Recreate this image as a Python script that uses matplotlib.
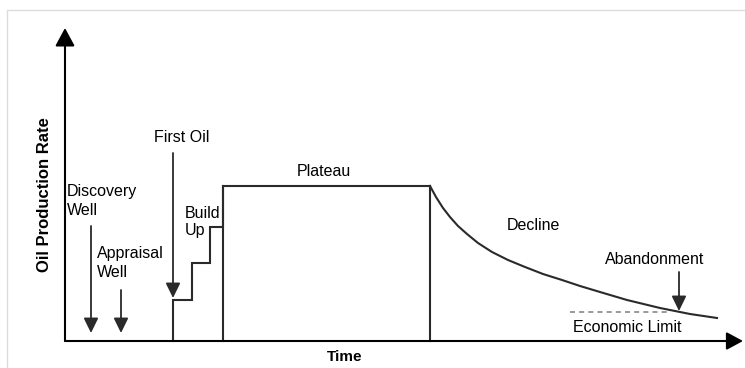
import numpy as np
import matplotlib.pyplot as plt
from matplotlib.patches import Rectangle

plt.rcParams['font.family'] = ['Liberation Sans', 'DejaVu Sans']

# time / rate units (origin at the corner of the two axes)
step_times = [108, 127, 145, 158]
step_rates = [41, 78, 114, 155]
plateau_end = 365
decline_t = [365, 371, 378, 385, 393, 402, 413, 427, 443, 460, 478,
             497, 515, 535, 562, 595, 625, 652]
decline_r = [155, 144, 133, 124, 115, 107, 98, 89, 81, 74, 67,
             61, 55, 49, 41, 33, 27, 23]
econ_limit = 29
econ_span = [505, 603]

# event arrows: (time, rate at tail, rate at head)
events = {
    'discovery': (26, 115, 8),
    'appraisal': (56, 51, 8),
    'first_oil': (108, 188, 43),
    'abandonment': (614, 69, 30),
}

line_col = '#2a2a2a'

fig = plt.figure(figsize=(7.45, 3.68), dpi=100)
ax = fig.add_axes([0, 0, 1, 1])
ax.set_xlim(-65, 680)
ax.set_ylim(-27, 341)
ax.axis('off')

# light frame around the picture
ax.add_patch(Rectangle((-58, -40), 760, 371, fill=False, ec='#dcdcdc', lw=1))

# axes with arrow heads
ax.annotate('', xy=(0, 313), xytext=(0, 0),
            arrowprops=dict(arrowstyle='-|>,head_length=0.5,head_width=0.27',
                            lw=1.5, color='black', shrinkA=0, shrinkB=0,
                            mutation_scale=22))
ax.annotate('', xy=(678, 0), xytext=(0, 0),
            arrowprops=dict(arrowstyle='-|>,head_length=0.5,head_width=0.27',
                            lw=1.5, color='black', shrinkA=0, shrinkB=0,
                            mutation_scale=20))

# build-up staircase + plateau
xs = [step_times[0]]
ys = [0]
for i, r in enumerate(step_rates):
    xs.append(step_times[i])
    ys.append(r)
    nxt = step_times[i + 1] if i + 1 < len(step_times) else plateau_end
    xs.append(nxt)
    ys.append(r)
ax.plot(xs, ys, color=line_col, lw=1.5, solid_joinstyle='miter')
ax.plot([step_times[-1], step_times[-1]], [0, step_rates[-1]], color=line_col, lw=1.5)
ax.plot([plateau_end, plateau_end], [0, step_rates[-1]], color=line_col, lw=1.5)

# decline
ax.plot(decline_t, decline_r, color=line_col, lw=1.5, solid_joinstyle='round')

# economic limit
ax.plot(econ_span, [econ_limit, econ_limit], color='#888888', lw=1.2,
        dashes=(3, 2.5))

for t, r0, r1 in events.values():
    ax.annotate('', xy=(t, r1), xytext=(t, r0),
                arrowprops=dict(arrowstyle='-|>,head_length=0.45,head_width=0.22',
                                lw=1.3, color=line_col, shrinkA=0, shrinkB=0,
                                mutation_scale=20))

fs = 11.5
ax.text(2, 157, 'Discovery\nWell', fontsize=fs, ha='left', va='top', linespacing=1.3)
ax.text(32, 95, 'Appraisal\nWell', fontsize=fs, ha='left', va='top', linespacing=1.3)
ax.text(89, 204, 'First Oil', fontsize=fs, ha='left', va='center')
ax.text(120, 135, 'Build\nUp', fontsize=fs, ha='left', va='top', linespacing=1.2)
ax.text(259, 170, 'Plateau', fontsize=fs, ha='center', va='center')
ax.text(468, 116, 'Decline', fontsize=fs, ha='center', va='center')
ax.text(590, 82, 'Abandonment', fontsize=fs, ha='center', va='center')
ax.text(562, 13, 'Economic Limit', fontsize=fs, ha='center', va='center')
ax.text(280, -16, 'Time', fontsize=11, fontweight='bold', ha='center', va='center')
ax.text(-20, 146, 'Oil Production Rate', fontsize=12, fontweight='bold',
        ha='center', va='center', rotation=90)

fig.savefig('out.png', dpi=100)
